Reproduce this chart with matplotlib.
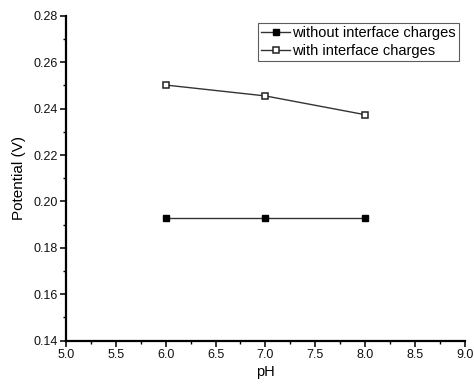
import numpy as np
import matplotlib.pyplot as plt
from matplotlib.ticker import MultipleLocator

plt.rcParams['font.family'] = ['Liberation Sans', 'DejaVu Sans']

# data
ph = [6.0, 7.0, 8.0]
without_charges = [0.1928, 0.1928, 0.1928]
with_charges = [0.2502, 0.2455, 0.2374]

fig = plt.figure(figsize=(4.74, 3.88), dpi=100)
ax = fig.add_axes([0.139, 0.122, 0.842, 0.837])

ax.plot(ph, without_charges, color='#333333', lw=1.0, marker='s', ms=5,
        mfc='black', mec='black', label='without interface charges')
ax.plot(ph, with_charges, color='#333333', lw=1.0, marker='s', ms=5,
        mfc='white', mec='#222222', mew=1.1, label='with interface charges')

ax.set_xlim(5.0, 9.0)
ax.set_ylim(0.14, 0.28)
ax.xaxis.set_major_locator(MultipleLocator(0.5))
ax.xaxis.set_minor_locator(MultipleLocator(0.25))
ax.yaxis.set_major_locator(MultipleLocator(0.02))
ax.yaxis.set_minor_locator(MultipleLocator(0.01))
ax.xaxis.set_major_formatter(plt.FormatStrFormatter('%.1f'))
ax.yaxis.set_major_formatter(plt.FormatStrFormatter('%.2f'))

for s in ['top', 'right']:
    ax.spines[s].set_visible(False)
for s in ['left', 'bottom']:
    ax.spines[s].set_linewidth(1.6)

ax.tick_params(which='major', direction='out', length=4, width=1.2, labelsize=9, pad=2,
               colors='#111111')
ax.tick_params(which='minor', direction='out', length=2.5, width=1.0)

ax.set_xlabel('pH', fontsize=10.5, labelpad=3)
ax.set_ylabel('Potential (V)', fontsize=11, labelpad=5)

leg = ax.legend(loc='upper right', bbox_to_anchor=(0.985, 0.978), fontsize=10.5,
                frameon=True, fancybox=False, borderpad=0.2, labelspacing=0.28,
                handlelength=2.0, handletextpad=0.15, borderaxespad=0.0)
leg.get_frame().set_edgecolor('#333333')
leg.get_frame().set_linewidth(0.8)

fig.savefig('out.png', dpi=100)
